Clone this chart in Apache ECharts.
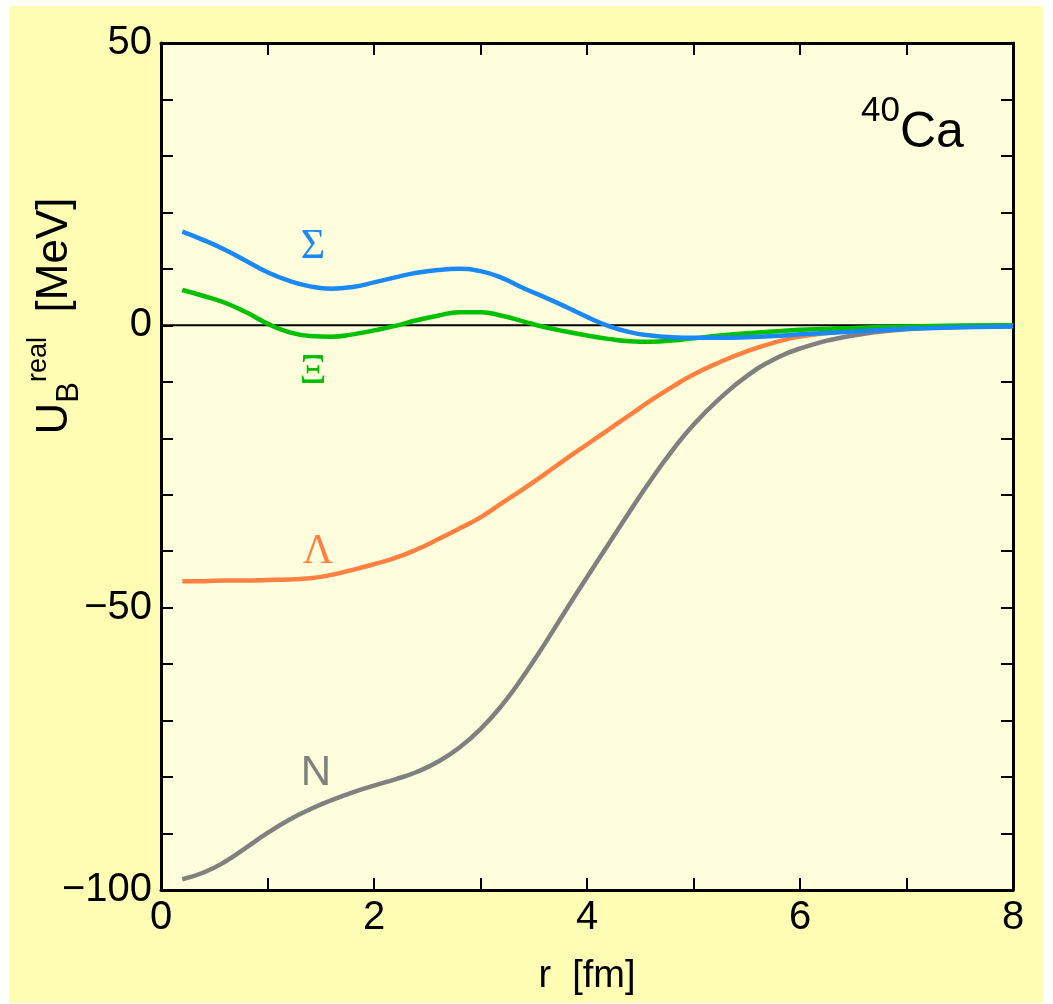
<!DOCTYPE html>
<html>
<head>
<meta charset="utf-8">
<title>40Ca U_B real</title>
<script src="https://cdn.jsdelivr.net/npm/echarts@6/dist/echarts.min.js"></script>
<style>
  html, body { margin: 0; padding: 0; background: #ffffff; }
  #main { position: absolute; left: 9px; top: 6px; width: 1034px; height: 997px; background: #fffdb4; }
</style>
</head>
<body>
<div id="main"></div>
<script>
// r [fm]
const rGrid = [0.2, 0.4, 0.6, 0.8, 1.0, 1.2, 1.4, 1.6, 1.8, 2.0, 2.2, 2.4, 2.6, 2.8, 3.0, 3.2, 3.4, 3.6, 3.8, 4.0,
  4.2, 4.4, 4.6, 4.8, 5.0, 5.25, 5.5, 5.75, 6.0, 6.5, 7.0, 7.5, 8.0]

// U_B^real [MeV]
const sigmaU = [16.6, 15.1, 13.4, 11.4, 9.4, 7.9, 6.9, 6.5, 6.8, 7.6, 8.5, 9.3, 9.8, 10.0, 9.6, 8.4, 6.6, 5.0, 3.3, 1.5,
  -0.1, -1.2, -1.8, -2.1, -2.2, -2.2, -2.1, -1.9, -1.6, -1.1, -0.6, -0.35, -0.2]
const xiU = [6.25, 5.2, 4.0, 2.3, 0.3, -1.2, -1.9, -2.0, -1.6, -0.9, -0.1, 0.9, 1.7, 2.3, 2.3, 1.7, 0.7, -0.3, -1.1, -1.8,
  -2.4, -2.8, -2.9, -2.7, -2.3, -1.8, -1.4, -1.1, -0.8, -0.45, -0.2, -0.05, 0.0]
const lambdaU = [-45.3, -45.3, -45.2, -45.2, -45.1, -45.0, -44.8, -44.2, -43.3, -42.3, -41.2, -39.7, -37.9, -36.0, -34.0,
  -31.5, -29.0, -26.4, -23.7, -21.1, -18.5, -15.9, -13.3, -10.9, -8.7, -6.5, -4.6, -3.1, -2.0, -0.9, -0.4, -0.15, 0.0]
const nucleonU = [-98.1, -96.9, -95.0, -92.5, -89.9, -87.6, -85.7, -84.1, -82.7, -81.5, -80.4, -79.1, -77.3, -74.8, -71.5,
  -67.3, -62.2, -56.5, -50.5, -44.6, -38.8, -33.0, -27.4, -22.2, -17.6, -12.9, -9.0, -6.1, -4.1, -1.8, -0.7, -0.3, -0.1]

const zeroLine = [[0, 0], [8, 0]]

const chart = echarts.init(document.getElementById('main'))

const font = "'Liberation Sans', Arial, Helvetica, sans-serif"
const serif = "'Liberation Serif', 'Times New Roman', 'DejaVu Serif', serif"

function pairs(vals) {
  return rGrid.map((r, i) => [r, vals[i]])
}

function curve(name, vals, color) {
  return {
    name: name,
    type: 'line',
    data: pairs(vals),
    smooth: 0.5,
    showSymbol: false,
    lineStyle: { color: color, width: 4.5 },
    itemStyle: { color: color },
    z: 3
  }
}

const tickStyle = { show: true, inside: true, length: 12, lineStyle: { color: '#000', width: 2 } }
const lineStyle = { show: true, onZero: false, lineStyle: { color: '#000', width: 3 } }
const fmtNum = v => String(v).replace('-', '\u2212')

chart.setOption({
  animation: false,
  grid: {
    left: 152,
    top: 37,
    right: 30,
    bottom: 113,
    show: true,
    backgroundColor: '#fffedc',
    borderWidth: 0
  },
  xAxis: [
    {
      type: 'value',
      min: 0,
      max: 8,
      interval: 1,
      position: 'bottom',
      name: 'r  [fm]',
      nameLocation: 'middle',
      nameGap: 68,
      nameTextStyle: { fontFamily: font, fontSize: 38, color: '#000' },
      axisLine: lineStyle,
      axisTick: tickStyle,
      axisLabel: {
        fontFamily: font,
        fontSize: 40,
        color: '#000',
        margin: 8,
        formatter: v => (v % 2 === 0 ? fmtNum(v) : '')
      },
      splitLine: { show: false }
    },
    {
      type: 'value',
      min: 0,
      max: 8,
      interval: 1,
      position: 'top',
      axisLine: lineStyle,
      axisTick: tickStyle,
      axisLabel: { show: false },
      splitLine: { show: false }
    }
  ],
  yAxis: [
    {
      type: 'value',
      min: -100,
      max: 50,
      interval: 10,
      position: 'left',
      axisLine: lineStyle,
      axisTick: tickStyle,
      axisLabel: {
        fontFamily: font,
        fontSize: 40,
        color: '#000',
        margin: 9,
        formatter: v => (v % 50 === 0 ? fmtNum(v) : '')
      },
      splitLine: { show: false }
    },
    {
      type: 'value',
      min: -100,
      max: 50,
      interval: 10,
      position: 'right',
      axisLine: lineStyle,
      axisTick: tickStyle,
      axisLabel: { show: false },
      splitLine: { show: false }
    }
  ],
  series: [
    {
      name: 'zero',
      type: 'line',
      data: zeroLine,
      showSymbol: false,
      lineStyle: { color: '#000', width: 2 },
      z: 2
    },
    curve('N', nucleonU, '#808080'),
    curve('\u039b', lambdaU, '#ff8040'),
    curve('\u039e', xiU, '#00c000'),
    curve('\u03a3', sigmaU, '#1a88f5')
  ],
  graphic: [
    {
      type: 'text',
      left: 852,
      top: 88,
      style: { text: '40', fontFamily: font, fontSize: 35, fill: '#000' }
    },
    {
      type: 'text',
      left: 891,
      top: 102,
      style: { text: 'Ca', fontFamily: font, fontSize: 50, fill: '#000' }
    },
    {
      type: 'text',
      x: 304, y: 241,
      style: { text: '\u03a3', fontFamily: serif, fontSize: 42, fill: '#1a88f5', align: 'center', verticalAlign: 'middle' }
    },
    {
      type: 'text',
      x: 304, y: 366,
      style: { text: '\u039e', fontFamily: serif, fontSize: 42, fill: '#00c000', align: 'center', verticalAlign: 'middle' }
    },
    {
      type: 'text',
      x: 309, y: 546,
      style: { text: '\u039b', fontFamily: serif, fontSize: 42, fill: '#ff8040', align: 'center', verticalAlign: 'middle' }
    },
    {
      type: 'text',
      x: 307, y: 767,
      style: { text: 'N', fontFamily: font, fontSize: 42, fill: '#808080', align: 'center', verticalAlign: 'middle' }
    },
    {
      type: 'text',
      x: 46,
      y: 310,
      rotation: Math.PI / 2,
      style: {
        text: '{m|U}{sub|B}{sup|real}{m|  [MeV]}',
        align: 'center',
        verticalAlign: 'middle',
        fill: '#000',
        rich: {
          m: { fontFamily: font, fontSize: 44, lineHeight: 60, verticalAlign: 'middle', fill: '#000' },
          sub: { fontFamily: font, fontSize: 31, lineHeight: 32, verticalAlign: 'bottom', fill: '#000' },
          sup: { fontFamily: font, fontSize: 27, lineHeight: 20, verticalAlign: 'top', fill: '#000' }
        }
      }
    }
  ]
})
</script>
</body>
</html>
